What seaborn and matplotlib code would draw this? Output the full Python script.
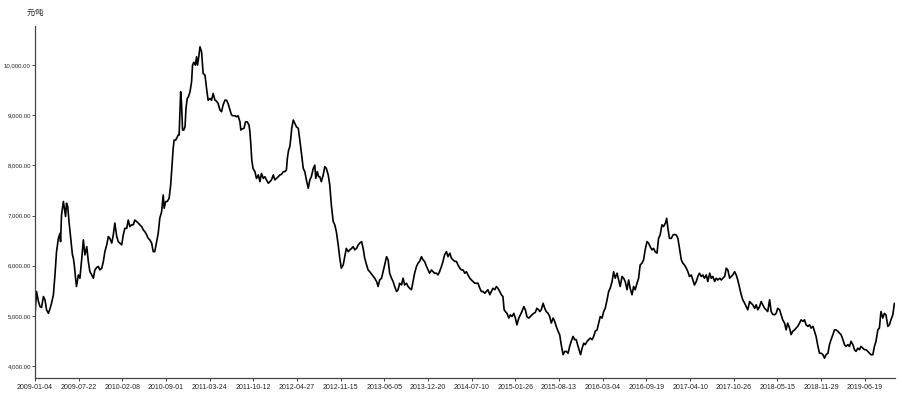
import matplotlib
matplotlib.use("Agg")
import matplotlib.pyplot as plt
import matplotlib.ticker as mticker
import seaborn as sns
import pandas as pd

# ---- data (trading-day index along category axis, price in 元/吨) ----
day_a = [0, 5, 11, 16, 21, 27, 32, 37, 43, 48, 53, 59, 64, 69, 75, 80, 82, 85, 91, 94,
         98, 101, 105, 109, 114, 120, 123, 126, 130, 133, 139, 144, 150, 155, 160, 166, 171, 176, 182, 187,
         192, 198, 203, 208, 214, 219, 224, 230, 235, 240, 246, 251, 256, 262, 267, 272, 278, 283, 288, 294,
         299, 304, 310, 315, 320, 326, 331, 336, 342, 347, 352, 358, 363, 368, 374, 379, 384, 390, 395, 400,
         406, 411, 414, 419, 424, 430, 435, 438, 443, 446, 451, 454, 459, 462, 467, 470, 473, 477, 481, 484,
         488, 492, 497, 502, 505, 509, 514, 518, 521, 525]
price_a = [5020, 5485, 5285, 5185, 5165, 5385, 5320, 5120, 5050, 5140, 5250, 5420, 5815, 6280, 6545, 6645, 6480, 7010, 7280, 7145,
           6980, 7245, 7180, 6880, 6580, 6215, 6150, 6015, 5750, 5585, 5815, 5750, 6150, 6515, 6215, 6380, 6080, 5880, 5815, 5750,
           5915, 5965, 5985, 5915, 5950, 6080, 6280, 6415, 6580, 6545, 6450, 6615, 6850, 6580, 6480, 6450, 6415, 6615, 6745, 6745,
           6910, 6780, 6815, 6815, 6910, 6880, 6850, 6815, 6780, 6715, 6680, 6615, 6545, 6515, 6450, 6280, 6280, 6480, 6645, 6945,
           7080, 7410, 7145, 7280, 7280, 7345, 7610, 7875, 8340, 8505, 8505, 8540, 8605, 8605, 9470, 9205, 8705, 8705, 8770, 9135,
           9335, 9370, 9470, 9670, 10000, 10055, 10000, 10165, 10000, 10165]

day_b = [529, 534, 539, 545, 550, 555, 561, 566, 571, 577, 582, 587, 593, 598, 603, 609, 614, 619, 625, 630,
         635, 641, 646, 651, 657, 660, 664, 670, 675, 680, 686, 689, 692, 695, 699, 705, 710, 716, 721, 726,
         732, 737, 742, 748, 753, 758, 764, 769, 774, 780, 785, 790, 796, 801, 806, 809, 813, 817, 820, 823,
         828, 833, 838, 844, 849, 854, 860, 865, 870, 876, 881, 886, 892, 897, 900, 905, 909, 913, 918, 924,
         929, 934, 940, 945, 950, 956, 961, 966, 972, 977, 982, 988, 993, 998, 1004, 1009, 1015, 1020, 1025, 1031,
         1036, 1041, 1047, 1052, 1057, 1063, 1068]
price_b = [10365, 10265, 9835, 9800, 9535, 9300, 9335, 9300, 9435, 9300, 9280, 9235, 9105, 9070, 9205, 9300, 9300, 9235, 9105, 9005,
           8990, 8990, 8970, 8990, 8870, 8705, 8725, 8740, 8870, 8870, 8805, 8670, 8405, 8105, 7940, 7875, 7740, 7810, 7675, 7840,
           7740, 7775, 7710, 7645, 7675, 7710, 7810, 7710, 7740, 7775, 7810, 7820, 7875, 7875, 7910, 8140, 8305, 8375, 8540, 8740,
           8905, 8840, 8770, 8740, 8505, 8240, 7940, 7875, 7710, 7545, 7710, 7775, 7940, 8005, 7740, 7875, 7775, 7775, 7675, 7810,
           7975, 7940, 7810, 7610, 7210, 6880, 6815, 6680, 6415, 6150, 5950, 6015, 6180, 6345, 6280, 6315, 6345, 6380, 6315, 6345,
           6415, 6450, 6480, 6345, 6150, 6015, 5915]

day_c = [1073, 1089, 1095, 1100, 1105, 1111, 1116, 1121, 1127, 1132, 1137, 1143, 1148, 1153, 1159, 1164, 1169, 1175, 1180, 1185,
         1191, 1196, 1201, 1207, 1212, 1217, 1223, 1228, 1233, 1239, 1244, 1249, 1255, 1260, 1265, 1271, 1276, 1281, 1287, 1292,
         1297, 1303, 1308, 1313, 1319, 1324, 1330, 1335, 1340, 1346, 1351, 1356, 1362, 1367, 1372, 1378, 1383, 1388, 1394, 1399,
         1404, 1410, 1415, 1420, 1426, 1431, 1436, 1442, 1447, 1452, 1458, 1463, 1468, 1474, 1479, 1484, 1490, 1495, 1500, 1504,
         1508, 1513, 1519, 1524, 1529, 1535, 1540, 1545, 1551, 1556, 1561, 1567, 1572, 1577, 1583, 1588, 1593, 1599, 1604, 1609,
         1615]
price_c = [5880, 5750, 5685, 5585, 5715, 5750, 5880, 6015, 6180, 6115, 5850, 5750, 5685, 5585, 5485, 5520, 5650, 5615, 5750, 5615,
           5650, 5585, 5550, 5520, 5685, 5850, 5985, 6050, 6085, 6180, 6115, 6085, 5985, 5915, 5850, 5915, 5880, 5850, 5850, 5815,
           5880, 5985, 6085, 6215, 6280, 6180, 6250, 6150, 6115, 6085, 6085, 6015, 5950, 5915, 5915, 5850, 5880, 5815, 5750, 5715,
           5685, 5650, 5650, 5650, 5550, 5485, 5485, 5450, 5485, 5520, 5420, 5485, 5550, 5520, 5585, 5550, 5485, 5420, 5385, 5120,
           5085, 5050, 4955, 5020, 4985, 5050, 4955, 4820, 4955, 5020, 5085, 5185, 5120, 4985, 4955, 4985, 5020, 5050, 5070, 5150,
           5120]

day_d = [1618, 1623, 1629, 1634, 1639, 1645, 1650, 1655, 1661, 1666, 1671, 1677, 1682, 1687, 1693, 1698, 1703, 1709, 1714, 1719,
         1725, 1730, 1735, 1741, 1746, 1749, 1754, 1759, 1764, 1770, 1775, 1780, 1786, 1791, 1796, 1802, 1807, 1812, 1818, 1823,
         1828, 1834, 1839, 1844, 1850, 1855, 1860, 1866, 1871, 1876, 1882, 1887, 1892, 1898, 1903, 1908, 1914, 1919, 1924, 1930,
         1935, 1940, 1946, 1951, 1956, 1962, 1967, 1972, 1978, 1983, 1988, 1994, 1999, 2004, 2010, 2015, 2021, 2025, 2029, 2034,
         2040, 2045, 2050, 2056, 2061, 2066, 2072, 2077, 2082, 2088, 2093, 2098, 2104, 2109, 2114, 2120, 2125, 2130, 2136, 2141,
         2146, 2152, 2157]
price_d = [5085, 5120, 5250, 5150, 5085, 5050, 4985, 4855, 4955, 4890, 4790, 4690, 4625, 4425, 4225, 4290, 4290, 4255, 4390, 4490,
           4590, 4525, 4525, 4390, 4290, 4225, 4355, 4455, 4425, 4490, 4525, 4555, 4525, 4590, 4690, 4720, 4855, 4985, 4955, 5085,
           5150, 5320, 5485, 5550, 5685, 5880, 5750, 5850, 5715, 5585, 5785, 5750, 5685, 5520, 5715, 5550, 5420, 5585, 5520, 5650,
           5750, 6015, 6050, 6115, 6315, 6480, 6450, 6380, 6315, 6345, 6280, 6250, 6545, 6610, 6815, 6780, 6850, 6945, 6745, 6545,
           6545, 6610, 6625, 6610, 6545, 6345, 6115, 6050, 6015, 5950, 5880, 5785, 5815, 5715, 5615, 5685, 5785, 5850, 5785, 5815,
           5750, 5815, 5685]

day_e = [2163, 2168, 2173, 2179, 2184, 2189, 2195, 2200, 2205, 2211, 2216, 2221, 2227, 2232, 2237, 2243, 2248, 2253, 2259, 2264,
         2269, 2275, 2280, 2285, 2291, 2296, 2301, 2307, 2312, 2317, 2323, 2328, 2333, 2339, 2344, 2349, 2355, 2360, 2365, 2371,
         2376, 2381, 2387, 2392, 2397, 2403, 2408, 2413, 2419, 2424, 2429, 2435, 2440, 2445, 2451, 2456, 2462, 2467, 2472, 2478,
         2483, 2488, 2494, 2499, 2504, 2510, 2515, 2520, 2526, 2531, 2536, 2542, 2547, 2552, 2558, 2563, 2568, 2574, 2579, 2584,
         2590, 2595, 2600, 2606, 2611, 2616, 2622, 2627, 2632, 2638, 2643, 2648, 2654, 2659, 2664, 2670, 2675, 2680, 2686, 2691,
         2696, 2702, 2707, 2712, 2718, 2723, 2728, 2734, 2739, 2744, 2750, 2755]
price_e = [5850, 5750, 5785, 5685, 5750, 5715, 5750, 5715, 5750, 5785, 5950, 5915, 5750, 5785, 5815, 5880, 5815, 5715, 5550, 5420,
           5320, 5250, 5185, 5120, 5285, 5250, 5220, 5150, 5220, 5120, 5185, 5285, 5220, 5150, 5120, 5085, 5320, 5085, 5030, 5020,
           5050, 5150, 5120, 5020, 4920, 4855, 4720, 4855, 4755, 4625, 4690, 4720, 4755, 4790, 4855, 4920, 4890, 4920, 4820, 4790,
           4820, 4755, 4790, 4690, 4590, 4390, 4255, 4255, 4225, 4155, 4225, 4255, 4425, 4525, 4625, 4720, 4720, 4690, 4655, 4625,
           4525, 4425, 4390, 4425, 4390, 4490, 4425, 4325, 4290, 4355, 4325, 4390, 4355, 4325, 4325, 4290, 4255, 4225, 4225, 4390,
           4490, 4720, 4755, 5085, 4955, 5050, 5020, 4790, 4820, 4920, 5020, 5250]

x_tick_labels = ["2009-01-04", "2009-07-22", "2010-02-08", "2010-09-01", "2011-03-24",
                 "2011-10-12", "2012-04-27", "2012-11-15", "2013-06-05", "2013-12-20",
                 "2014-07-10", "2015-01-26", "2015-08-13", "2016-03-04", "2016-09-19",
                 "2017-04-10", "2017-10-26", "2018-05-15", "2018-11-29", "2019-06-19"]
x_tick_step = 140
y_ticks = [4000, 5000, 6000, 7000, 8000, 9000, 10000]
unit_label = "元/吨"

df = pd.DataFrame({
    "day": day_a + day_b + day_c + day_d + day_e,
    "price": price_a + price_b + price_c + price_d + price_e,
})

# ---- drawing ----
sns.set_style("white")
plt.rcParams["font.family"] = ["Liberation Sans", "Noto Sans CJK SC", "DejaVu Sans"]

fig = plt.figure(figsize=(9.03, 3.97), dpi=100)
ax = fig.add_axes([35 / 903, 1 - 378 / 397, (895 - 35) / 903, (378 - 26) / 397])

sns.lineplot(data=df, x="day", y="price", ax=ax, color="black", linewidth=1.2,
             estimator=None, sort=False)

ax.set_xlim(0, 2757)
ax.set_ylim(3760, 10780)
ax.set_xticks([i * x_tick_step for i in range(len(x_tick_labels))])
ax.set_xticklabels(x_tick_labels)
ax.set_yticks(y_ticks)
ax.yaxis.set_major_formatter(mticker.StrMethodFormatter("{x:,.2f}"))
ax.set_xlabel("")
ax.set_ylabel("")

for side in ["top", "right"]:
    ax.spines[side].set_visible(False)
for side in ["left", "bottom"]:
    ax.spines[side].set_color("#444444")
    ax.spines[side].set_linewidth(0.9)

ax.tick_params(axis="both", which="major", length=2, width=0.7, color="#444444",
               labelcolor="#222222", pad=1, direction="out")
ax.tick_params(axis="x", bottom=True, labelsize=5.0, pad=2)
ax.tick_params(axis="y", left=True, labelsize=4.3)

fig.text(27 / 903, 1 - 13 / 397, unit_label, fontsize=5.5, color="#222222",
         ha="left", va="center")

fig.savefig("out.png", dpi=100)
